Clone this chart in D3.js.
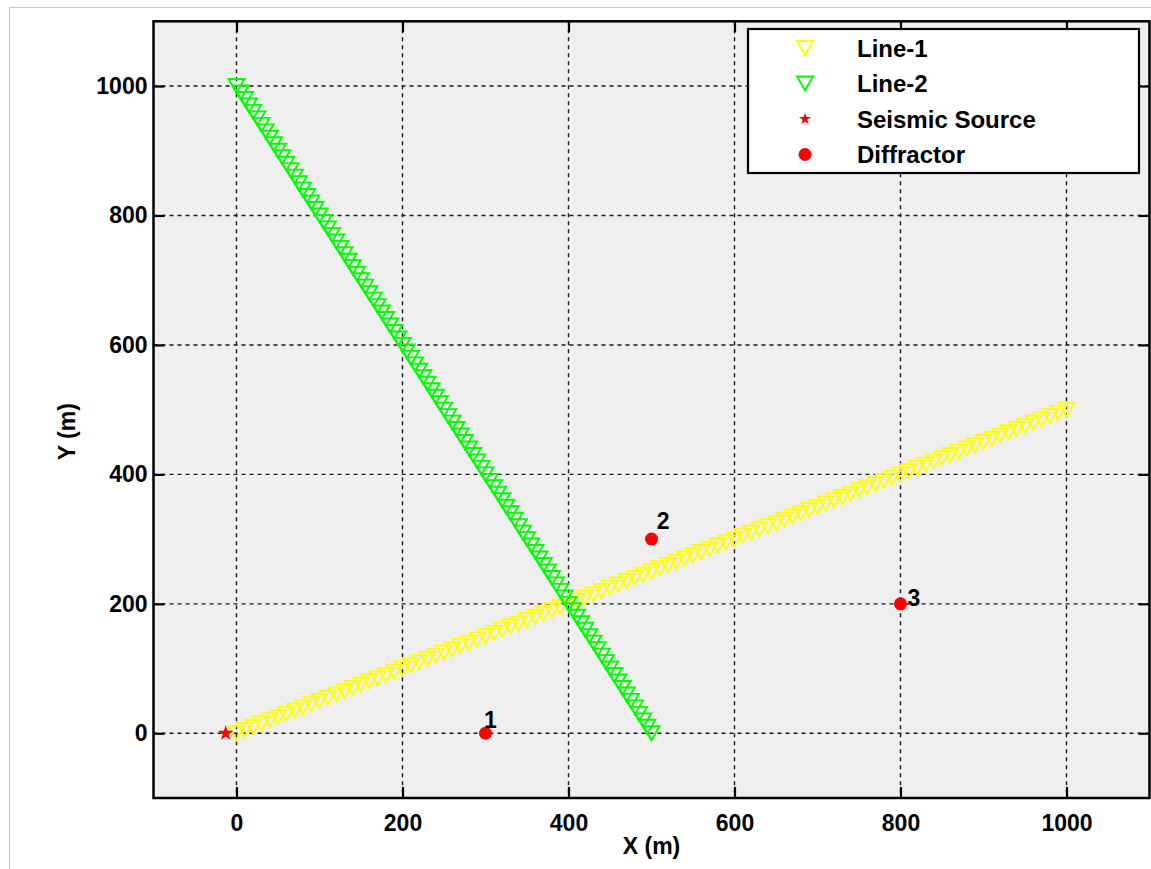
<!DOCTYPE html>
<html>
<head>
<meta charset="utf-8">
<script src="https://cdn.jsdelivr.net/npm/d3@7"></script>
<style>
  html, body { margin: 0; padding: 0; background: #ffffff; }
  svg { display: block; }
  text { font-family: "Liberation Sans", Arial, Helvetica, sans-serif; font-weight: bold; fill: #000; }
</style>
</head>
<body>
<svg id="chart" width="1151" height="869"></svg>
<script>
// Receiver line 1 (yellow)
const line1X = [0,10,20,30,40,50,60,70,80,90,100,110,120,130,140,150,160,170,180,190,200,
  210,220,230,240,250,260,270,280,290,300,310,320,330,340,350,360,370,380,390,400,
  410,420,430,440,450,460,470,480,490,500,510,520,530,540,550,560,570,580,590,600,
  610,620,630,640,650,660,670,680,690,700,710,720,730,740,750,760,770,780,790,800,
  810,820,830,840,850,860,870,880,890,900,910,920,930,940,950,960,970,980,990,1000];
const line1Y = [0,5,10,15,20,25,30,35,40,45,50,55,60,65,70,75,80,85,90,95,100,
  105,110,115,120,125,130,135,140,145,150,155,160,165,170,175,180,185,190,195,200,
  205,210,215,220,225,230,235,240,245,250,255,260,265,270,275,280,285,290,295,300,
  305,310,315,320,325,330,335,340,345,350,355,360,365,370,375,380,385,390,395,400,
  405,410,415,420,425,430,435,440,445,450,455,460,465,470,475,480,485,490,495,500];

// Receiver line 2 (green)
const line2X = [0,5,10,15,20,25,30,35,40,45,50,55,60,65,70,75,80,85,90,95,100,
  105,110,115,120,125,130,135,140,145,150,155,160,165,170,175,180,185,190,195,200,
  205,210,215,220,225,230,235,240,245,250,255,260,265,270,275,280,285,290,295,300,
  305,310,315,320,325,330,335,340,345,350,355,360,365,370,375,380,385,390,395,400,
  405,410,415,420,425,430,435,440,445,450,455,460,465,470,475,480,485,490,495,500];
const line2Y = [1000,990,980,970,960,950,940,930,920,910,900,890,880,870,860,850,840,830,820,810,800,
  790,780,770,760,750,740,730,720,710,700,690,680,670,660,650,640,630,620,610,600,
  590,580,570,560,550,540,530,520,510,500,490,480,470,460,450,440,430,420,410,400,
  390,380,370,360,350,340,330,320,310,300,290,280,270,260,250,240,230,220,210,200,
  190,180,170,160,150,140,130,120,110,100,90,80,70,60,50,40,30,20,10,0];

// Shot location
const sourceX = [-13];
const sourceY = [0];

// Point diffractors and their labels
const diffX = [300, 500, 800];
const diffY = [0, 300, 200];
const diffLabels = ["1", "2", "3"];
const diffLabelX = [306, 514, 816];
const diffLabelY = [21, 328, 209];

// Axes
const xDomain = [-100, 1100];
const yDomain = [-100, 1100];
const xTicks = [0, 200, 400, 600, 800, 1000];
const yTicks = [0, 200, 400, 600, 800, 1000];
const xLabel = "X (m)";
const yLabel = "Y (m)";

const legendItems = ["Line-1", "Line-2", "Seismic Source", "Diffractor"];

const svg = d3.select("#chart");

const plot = { left: 153.5, right: 1149.5, top: 21.3, bottom: 798 };

const x = d3.scaleLinear().domain(xDomain).range([plot.left, plot.right]);
const y = d3.scaleLinear().domain(yDomain).range([plot.bottom, plot.top]);

// Figure outline
svg.append("path")
  .attr("d", `M9.5,869 L9.5,7.5 L1151,7.5`)
  .attr("fill", "none")
  .attr("stroke", "#c8c8c8")
  .attr("stroke-width", 1);

// Plot background
svg.append("rect")
  .attr("x", plot.left).attr("y", plot.top)
  .attr("width", plot.right - plot.left).attr("height", plot.bottom - plot.top)
  .attr("fill", "#efefef");

// Dotted grid
const grid = svg.append("g").attr("stroke", "#1a1a1a").attr("stroke-width", 1.4)
  .attr("stroke-dasharray", "4,4");
grid.selectAll("line.gx").data(xTicks).join("line")
  .attr("class", "gx")
  .attr("x1", d => x(d)).attr("x2", d => x(d))
  .attr("y1", plot.top).attr("y2", plot.bottom);
grid.selectAll("line.gy").data(yTicks).join("line")
  .attr("class", "gy")
  .attr("y1", d => y(d)).attr("y2", d => y(d))
  .attr("x1", plot.left).attr("x2", plot.right);

// Axes with inward ticks on all four sides
const tickLen = 11;
const axisStyle = g => {
  g.select(".domain").remove();
  g.selectAll(".tick line").attr("stroke", "#000").attr("stroke-width", 2.2);
  g.selectAll(".tick text").attr("font-size", 23).attr("font-weight", "bold")
    .attr("font-family", '"Liberation Sans", Arial, sans-serif').attr("fill", "#000");
};
svg.append("g").attr("transform", `translate(0,${plot.bottom})`)
  .call(d3.axisBottom(x).tickValues(xTicks).tickSizeInner(-tickLen).tickSizeOuter(0)
    .tickPadding(tickLen + 6).tickFormat(d3.format("d")))
  .call(axisStyle);
svg.append("g").attr("transform", `translate(0,${plot.top})`)
  .call(d3.axisTop(x).tickValues(xTicks).tickSizeInner(-tickLen).tickSizeOuter(0).tickFormat(""))
  .call(axisStyle);
svg.append("g").attr("transform", `translate(${plot.left},0)`)
  .call(d3.axisLeft(y).tickValues(yTicks).tickSizeInner(-tickLen).tickSizeOuter(0)
    .tickPadding(6).tickFormat(d3.format("d")))
  .call(axisStyle);
svg.append("g").attr("transform", `translate(${plot.right},0)`)
  .call(d3.axisRight(y).tickValues(yTicks).tickSizeInner(-tickLen).tickSizeOuter(0).tickFormat(""))
  .call(axisStyle);

// Axis labels
svg.append("text")
  .attr("x", (plot.left + plot.right) / 2).attr("y", 854)
  .attr("text-anchor", "middle").attr("font-size", 23)
  .text(xLabel);
svg.append("text")
  .attr("transform", `translate(75,${(plot.top + plot.bottom) / 2 + 22}) rotate(-90)`)
  .attr("text-anchor", "middle").attr("font-size", 23)
  .text(yLabel);

// Marker shapes
const triW = 16, triH = 14;
const triangleDown = `M${-triW / 2},${-triH / 2}L${triW / 2},${-triH / 2}L0,${triH / 2}Z`;
const starPath = d3.symbol().type(d3.symbolStar);

const plotArea = svg.append("g");

// Receiver lines
function drawLine(xs, ys, color) {
  plotArea.append("g").selectAll("path").data(xs.map((d, i) => [d, ys[i]])).join("path")
    .attr("d", triangleDown)
    .attr("transform", d => `translate(${x(d[0])},${y(d[1])})`)
    .attr("fill", "none").attr("stroke", color).attr("stroke-width", 1.9)
    .attr("stroke-linejoin", "miter");
}
drawLine(line1X, line1Y, "#ffff00");
drawLine(line2X, line2Y, "#00ff00");

// Source
plotArea.selectAll("path.src").data(sourceX.map((d, i) => [d, sourceY[i]])).join("path")
  .attr("class", "src")
  .attr("d", starPath.size(75)())
  .attr("transform", d => `translate(${x(d[0])},${y(d[1])})`)
  .attr("fill", "#ff0000");

// Diffractors
plotArea.selectAll("circle.diff").data(diffX.map((d, i) => [d, diffY[i]])).join("circle")
  .attr("class", "diff")
  .attr("cx", d => x(d[0])).attr("cy", d => y(d[1])).attr("r", 6.5)
  .attr("fill", "#ff0000");
plotArea.selectAll("text.dl").data(diffLabels).join("text")
  .attr("class", "dl")
  .attr("x", (d, i) => x(diffLabelX[i])).attr("y", (d, i) => y(diffLabelY[i]))
  .attr("text-anchor", "middle").attr("dominant-baseline", "central")
  .attr("font-size", 23)
  .text(d => d);

// Frame
svg.append("rect")
  .attr("x", plot.left).attr("y", plot.top)
  .attr("width", plot.right - plot.left).attr("height", plot.bottom - plot.top)
  .attr("fill", "none").attr("stroke", "#000").attr("stroke-width", 2.5);

// Legend
const lg = svg.append("g");
const lgBox = { x: 748, y: 29, w: 391, h: 144 };
lg.append("rect")
  .attr("x", lgBox.x).attr("y", lgBox.y).attr("width", lgBox.w).attr("height", lgBox.h)
  .attr("fill", "#ffffff").attr("stroke", "#000").attr("stroke-width", 2.2);
const rowY = i => 48 + i * 35.5;
const symX = 805, txtX = 857;
lg.append("path").attr("d", triangleDown).attr("transform", `translate(${symX},${rowY(0)})`)
  .attr("fill", "none").attr("stroke", "#ffff00").attr("stroke-width", 1.9);
lg.append("path").attr("d", triangleDown).attr("transform", `translate(${symX},${rowY(1)})`)
  .attr("fill", "none").attr("stroke", "#00ff00").attr("stroke-width", 1.9);
lg.append("path").attr("d", starPath.size(45)()).attr("transform", `translate(${symX},${rowY(2)})`)
  .attr("fill", "#ff0000");
lg.append("circle").attr("cx", symX).attr("cy", rowY(3)).attr("r", 6.5).attr("fill", "#ff0000");
lg.selectAll("text").data(legendItems).join("text")
  .attr("x", txtX).attr("y", (d, i) => rowY(i))
  .attr("dominant-baseline", "central").attr("font-size", 24)
  .text(d => d);
</script>
</body>
</html>
